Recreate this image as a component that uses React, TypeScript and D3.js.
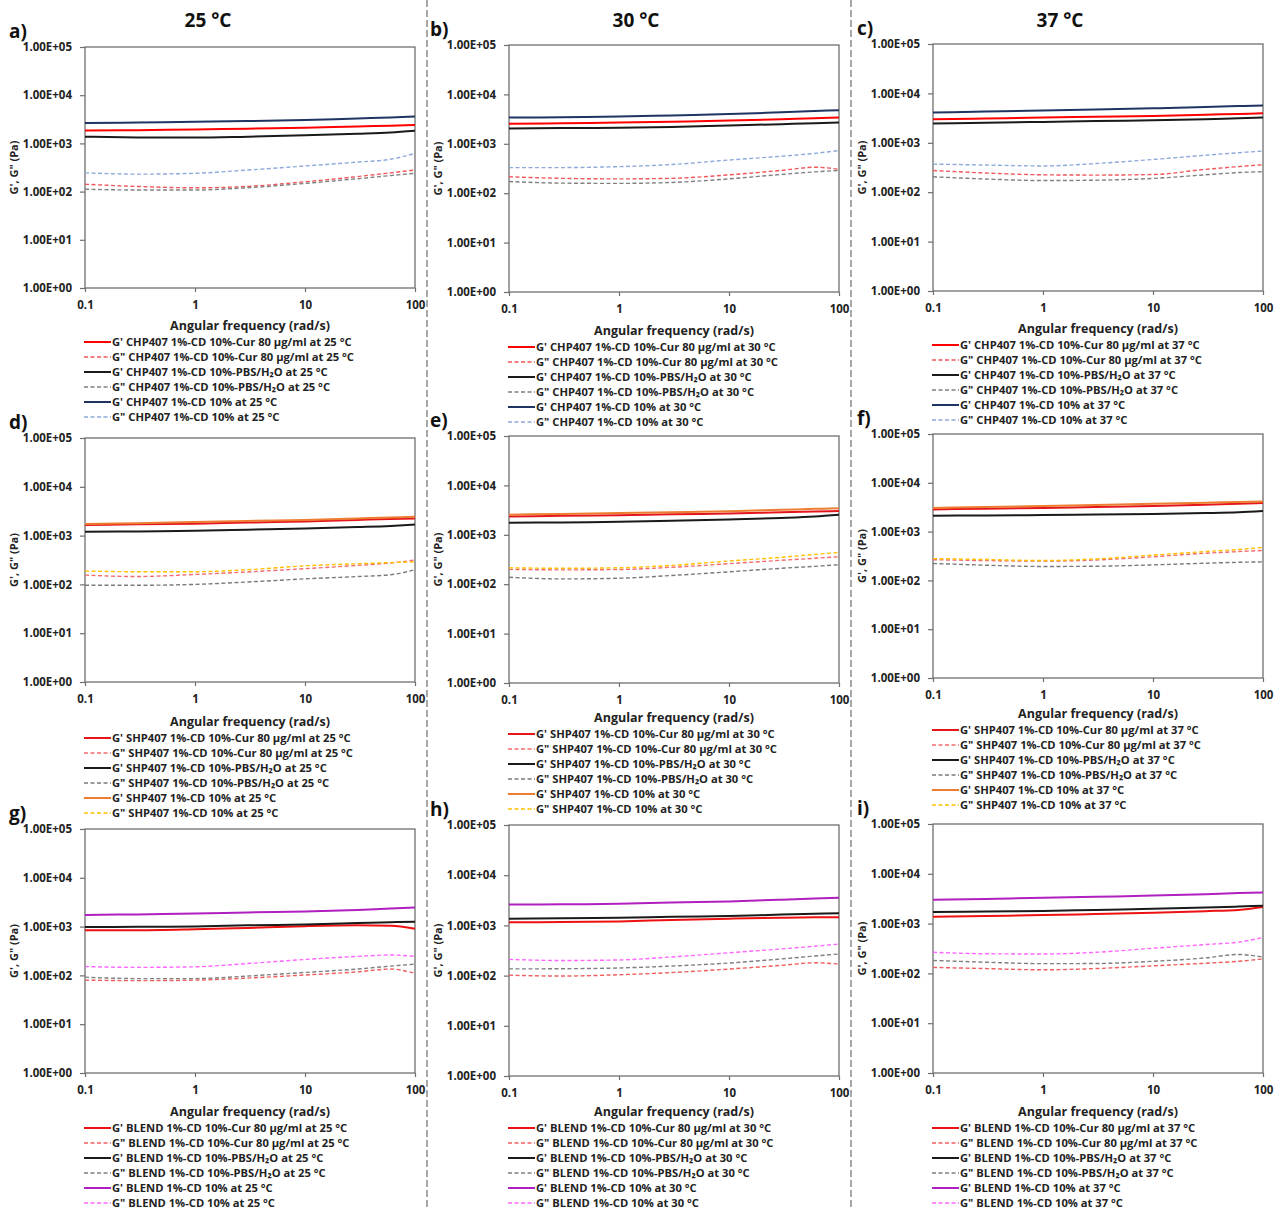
import { useEffect, useRef } from "react";
import * as d3 from "d3";

// angular frequency (rad/s) sample points shared by every curve
const freq = [0.1, 0.3, 1, 3, 10, 30, 60, 100];

const xTicks = [0.1, 1, 10, 100];
const yTicks = [1, 10, 100, 1000, 10000, 100000];

const temps = ["25", "30", "37"];
const polymers = ["CHP407", "SHP407", "BLEND"];
const letters = ["a)", "b)", "c)", "d)", "e)", "f)", "g)", "h)", "i)"];

// rows in every panel: Cur G', Cur G", PBS G', PBS G", CD G', CD G"
const chp25 = [
  [1850, 1880, 1950, 2020, 2100, 2250, 2330, 2400],
  [142, 128, 120, 128, 160, 205, 245, 280],
  [1380, 1330, 1320, 1380, 1470, 1580, 1680, 1830],
  [112, 108, 108, 120, 148, 185, 215, 240],
  [2650, 2700, 2800, 2900, 3050, 3300, 3450, 3600],
  [245, 230, 240, 280, 340, 410, 470, 620],
];
const chp30 = [
  [2550, 2600, 2700, 2800, 2950, 3150, 3300, 3400],
  [215, 200, 195, 200, 235, 290, 335, 305],
  [2050, 2080, 2120, 2200, 2350, 2500, 2600, 2700],
  [172, 160, 158, 165, 195, 240, 270, 290],
  [3400, 3450, 3550, 3750, 4000, 4350, 4600, 4800],
  [330, 330, 345, 380, 470, 560, 640, 730],
];
const chp37 = [
  [3000, 3100, 3250, 3350, 3500, 3700, 3850, 3950],
  [275, 245, 225, 222, 228, 290, 330, 360],
  [2450, 2550, 2650, 2750, 2850, 3000, 3150, 3250],
  [205, 185, 172, 175, 190, 225, 250, 260],
  [4100, 4300, 4500, 4700, 5000, 5300, 5550, 5700],
  [370, 355, 340, 380, 460, 560, 630, 680],
];
const shp25 = [
  [1650, 1700, 1750, 1850, 1950, 2100, 2200, 2250],
  [155, 145, 160, 180, 210, 245, 275, 315],
  [1200, 1220, 1260, 1320, 1400, 1500, 1580, 1680],
  [96, 96, 100, 112, 130, 145, 158, 200],
  [1720, 1800, 1900, 2000, 2100, 2250, 2350, 2420],
  [188, 182, 182, 200, 240, 265, 280, 290],
];
const shp30 = [
  [2350, 2420, 2500, 2600, 2700, 2850, 2950, 3050],
  [200, 195, 198, 220, 260, 305, 335, 360],
  [1750, 1780, 1830, 1920, 2050, 2200, 2350, 2550],
  [138, 128, 132, 150, 178, 210, 230, 248],
  [2550, 2650, 2750, 2850, 3000, 3200, 3350, 3450],
  [215, 210, 215, 240, 295, 350, 400, 440],
];
const shp37 = [
  [2850, 2950, 3050, 3200, 3350, 3550, 3700, 3850],
  [265, 255, 248, 262, 305, 360, 390, 410],
  [2120, 2150, 2180, 2230, 2300, 2400, 2500, 2650],
  [222, 205, 193, 195, 208, 225, 235, 240],
  [3050, 3200, 3350, 3500, 3700, 3900, 4050, 4150],
  [280, 268, 255, 275, 330, 390, 430, 475],
];
const blend25 = [
  [840, 840, 880, 940, 1020, 1060, 1040, 900],
  [80, 78, 80, 88, 102, 118, 135, 110],
  [980, 990, 1010, 1060, 1110, 1180, 1230, 1260],
  [92, 86, 86, 97, 115, 135, 155, 170],
  [1730, 1780, 1850, 1950, 2050, 2200, 2350, 2450],
  [152, 146, 150, 175, 212, 245, 262, 245],
];
const blend30 = [
  [1150, 1170, 1200, 1280, 1360, 1420, 1450, 1460],
  [102, 98, 104, 115, 135, 160, 180, 170],
  [1360, 1390, 1420, 1480, 1540, 1640, 1700, 1740],
  [136, 137, 142, 155, 178, 215, 245, 270],
  [2600, 2630, 2700, 2850, 3000, 3250, 3450, 3550],
  [210, 200, 205, 235, 285, 340, 385, 425],
];
const blend37 = [
  [1380, 1420, 1480, 1560, 1660, 1780, 1880, 2150],
  [132, 125, 118, 125, 142, 160, 175, 195],
  [1700, 1740, 1800, 1880, 1980, 2100, 2200, 2280],
  [182, 168, 157, 158, 175, 205, 240, 212],
  [3000, 3120, 3300, 3450, 3650, 3900, 4100, 4200],
  [265, 248, 245, 265, 320, 380, 425, 525],
];
const panelData = [
  [chp25, chp30, chp37],
  [shp25, shp30, shp37],
  [blend25, blend30, blend37],
];

const samples = ["-Cur 80 μg/ml", "-PBS/H₂O", ""];

const polymerColors = [
  ["#ff0000", "#f2575c", "#1a1a1a", "#808080", "#1f3461", "#8eaadb"],
  ["#e4161c", "#f26b6e", "#1a1a1a", "#7a7a7a", "#ed7d31", "#ffc000"],
  ["#ee1111", "#ef5d5d", "#1a1a1a", "#7f7f7f", "#b01fbf", "#ff66ff"],
];

// panel frames taken from the figure layout
const colLeft = [85, 509, 933];
const letterX = [9, 430, 857];
const plotW = 330;
const panelTop = [[47, 45, 44], [438, 436, 434], [829, 825, 824]];
const panelBottom = [[288, 292, 291], [682, 683, 678], [1073, 1076, 1073]];
const legendTop = [[342, 347, 345], [738, 734, 730], [1128, 1128, 1128]];

const FONT = "'Open Sans', 'Noto Sans', sans-serif";

const expFormat = (d: number) => {
  const e = Math.round(Math.log10(d));
  return `1.00E+${String(e).padStart(2, "0")}`;
};

const App = () => {
  const svgRef = useRef<SVGSVGElement | null>(null);

  useEffect(() => {
    const svg = d3.select(svgRef.current);
    svg.selectAll("*").remove();

    svg.append("rect").attr("width", 1285).attr("height", 1209).attr("fill", "#fff");

    // dashed column separators
    [427, 851].forEach((sx) => {
      svg
        .append("line")
        .attr("x1", sx)
        .attr("x2", sx)
        .attr("y1", 0)
        .attr("y2", 1209)
        .attr("stroke", "#8c8c8c")
        .attr("stroke-width", 1.5)
        .attr("stroke-dasharray", "7,3");
    });

    // column titles
    [208, 636, 1060].forEach((cx, i) => {
      svg
        .append("text")
        .attr("x", cx)
        .attr("y", 27)
        .attr("text-anchor", "middle")
        .style("font", `700 19px ${FONT}`)
        .attr("fill", "#111")
        .text(`${temps[i]} °C`);
    });

    for (let r = 0; r < 3; r++) {
      for (let c = 0; c < 3; c++) {
        const left = colLeft[c];
        const top = panelTop[r][c];
        const bottom = panelBottom[r][c];
        const ly0 = legendTop[r][c];
        const colors = polymerColors[r];
        const series = panelData[r][c];

        const x = d3.scaleLog().domain([0.1, 100]).range([left, left + plotW]);
        const y = d3.scaleLog().domain([1, 1e5]).range([bottom, top]);

        const g = svg.append("g");

        // panel letter
        g.append("text")
          .attr("x", letterX[c])
          .attr("y", top - 9)
          .style("font", `700 19px ${FONT}`)
          .attr("fill", "#111")
          .text(letters[r * 3 + c]);

        // y axis
        const yAxis = d3
          .axisLeft(y)
          .tickValues(yTicks)
          .tickSize(5)
          .tickPadding(8)
          .tickFormat((d) => expFormat(d as number));
        const ya = g.append("g").attr("transform", `translate(${left},0)`).call(yAxis);

        // x axis
        const xAxis = d3
          .axisBottom(x)
          .tickValues(xTicks)
          .tickSize(4)
          .tickPadding(9)
          .tickFormat((d) => d3.format("~g")(d as number));
        const xa = g.append("g").attr("transform", `translate(0,${bottom})`).call(xAxis);

        [ya, xa].forEach((a) => {
          a.select(".domain").remove();
          a.selectAll("line").attr("stroke", "#6f6f6f").attr("stroke-width", 1.2);
          a.selectAll("text")
            .style("font", `700 11.5px ${FONT}`)
            .attr("fill", "#222");
        });

        // plot frame
        g.append("rect")
          .attr("x", left)
          .attr("y", top)
          .attr("width", plotW)
          .attr("height", bottom - top)
          .attr("fill", "none")
          .attr("stroke", "#6f6f6f")
          .attr("stroke-width", 1.3);

        // y title
        g.append("text")
          .attr("transform", `translate(${left - 67},${(top + bottom) / 2}) rotate(-90)`)
          .attr("text-anchor", "middle")
          .style("font", `700 11px ${FONT}`)
          .attr("fill", "#222")
          .text('G\', G" (Pa)');

        // x title
        g.append("text")
          .attr("x", left + plotW / 2)
          .attr("y", ly0 - 12)
          .attr("text-anchor", "middle")
          .style("font", `700 12.5px ${FONT}`)
          .attr("fill", "#222")
          .text("Angular frequency (rad/s)");

        const line = d3
          .line<number>()
          .x((_, i) => x(freq[i]))
          .y((d) => y(d))
          .curve(d3.curveMonotoneX);

        // draw G" first, G' on top
        const order = [1, 3, 5, 0, 2, 4];
        order.forEach((k) => {
          const dashed = k % 2 === 1;
          g.append("path")
            .datum(series[k])
            .attr("d", line)
            .attr("fill", "none")
            .attr("stroke", colors[k])
            .attr("stroke-width", dashed ? 1.4 : 2)
            .attr("stroke-dasharray", dashed ? "4,2.5" : null);
        });

        // legend
        for (let k = 0; k < 6; k++) {
          const dashed = k % 2 === 1;
          const ly = ly0 + k * 15;
          g.append("line")
            .attr("x1", left - 1)
            .attr("x2", left + 26)
            .attr("y1", ly)
            .attr("y2", ly)
            .attr("stroke", colors[k])
            .attr("stroke-width", dashed ? 1.4 : 2)
            .attr("stroke-dasharray", dashed ? "4,2.5" : null);
          const mod = dashed ? 'G"' : "G'";
          g.append("text")
            .attr("x", left + 27)
            .attr("y", ly + 4)
            .style("font", `700 11.2px ${FONT}`)
            .attr("fill", "#222")
            .text(`${mod} ${polymers[r]} 1%-CD 10%${samples[Math.floor(k / 2)]} at ${temps[c]} °C`);
        }
      }
    }
  }, []);

  return (
    <div style={{ position: "absolute", left: 0, top: 0 }}>
      <svg ref={svgRef} width={1285} height={1209} style={{ display: "block" }} />
    </div>
  );
};

export default App;
